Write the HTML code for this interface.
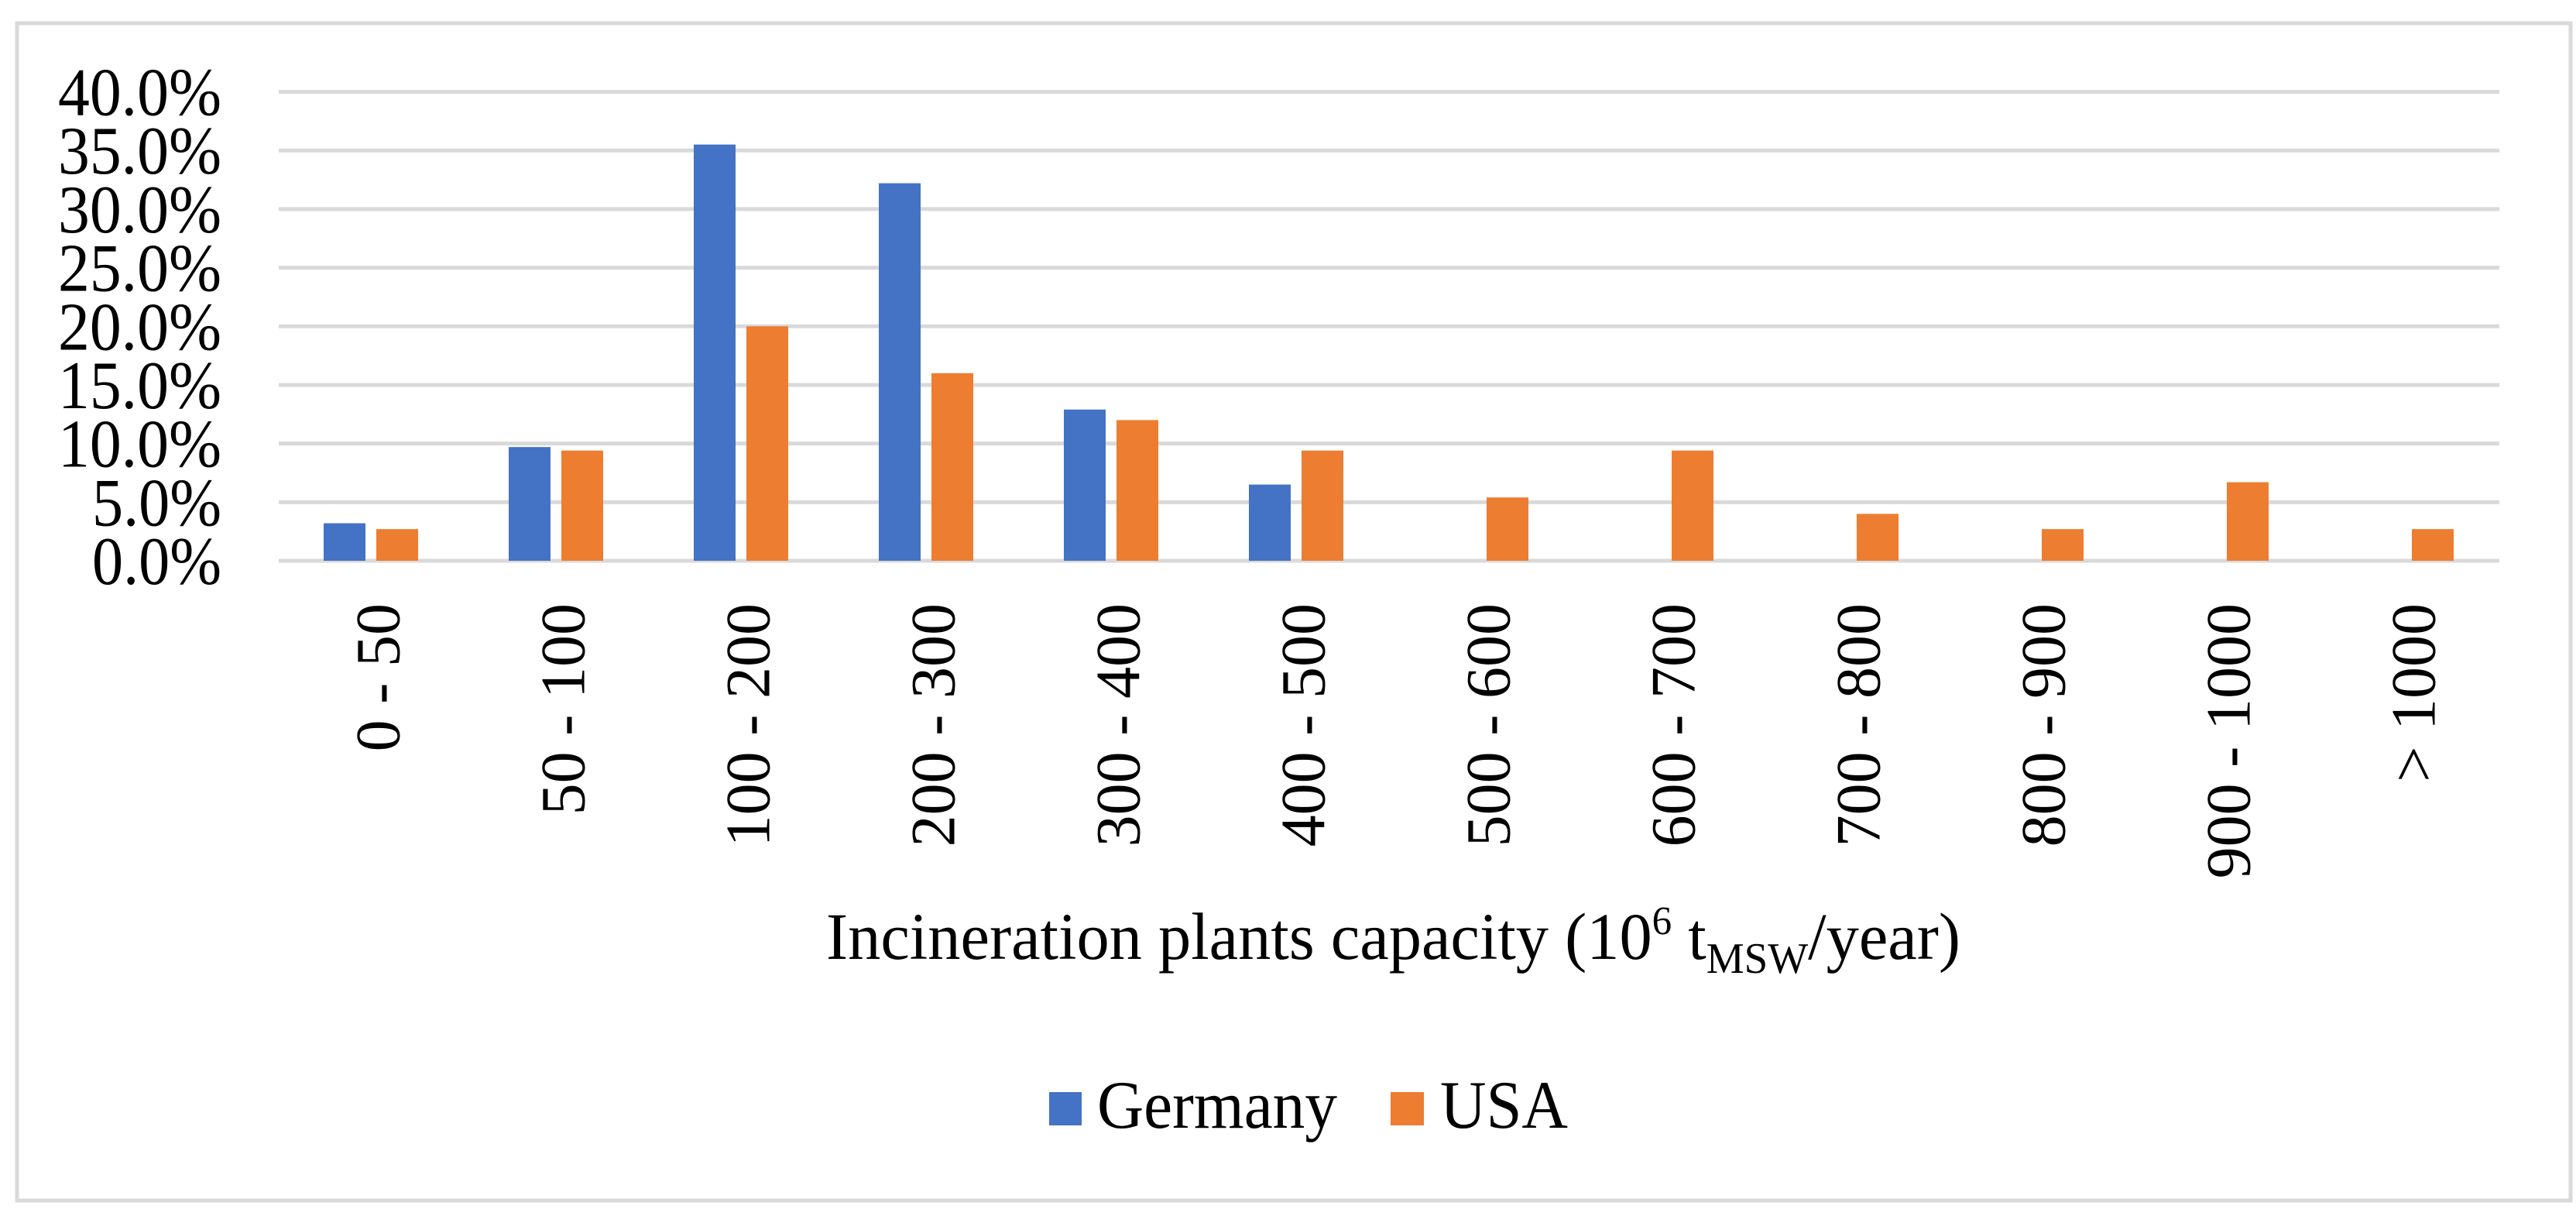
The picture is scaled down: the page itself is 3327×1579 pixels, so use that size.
<!DOCTYPE html>
<html><head><meta charset="utf-8"><style>
html,body{margin:0;padding:0;background:#fff;}
svg{display:block;font-family:"Liberation Serif","Times New Roman",serif;}
</style></head><body>
<svg id="chart" width="3327" height="1579" viewBox="0 0 3327 1579" xmlns="http://www.w3.org/2000/svg">
<rect x="22" y="30" width="3298" height="1520" fill="#fff" stroke="#d9d9d9" stroke-width="5"/>
<g id="grid"></g><g id="bars"></g><g id="yticks"></g><g id="xticks"></g>
<text x="1067" y="1238" font-size="86" textLength="1465" lengthAdjust="spacingAndGlyphs">Incineration plants capacity (10<tspan font-size="52" dy="-32">6</tspan><tspan dy="32"> t</tspan><tspan font-size="56" dy="18">MSW</tspan><tspan dy="-18">/year)</tspan></text>
<g>
<rect x="1355" y="1410" width="42" height="43" fill="#4472c4"/>
<text x="1417" y="1456" font-size="88" textLength="310" lengthAdjust="spacingAndGlyphs">Germany</text>
<rect x="1796" y="1410" width="43" height="43" fill="#ed7d31"/>
<text x="1860" y="1456" font-size="88" textLength="165" lengthAdjust="spacingAndGlyphs">USA</text>
</g>
</svg>
<script>
const categories=["0 - 50","50 - 100","100 - 200","200 - 300","300 - 400","400 - 500","500 - 600","600 - 700","700 - 800","800 - 900","900 - 1000","> 1000"];
const germany=[3.2,9.7,35.5,32.2,12.9,6.5,0,0,0,0,0,0];
const usa=[2.7,9.4,20.0,16.0,12.0,9.4,5.4,9.4,4.0,2.7,6.7,2.7];
const yTicks=[0,5,10,15,20,25,30,35,40];
const yTickLabels=["0.0%","5.0%","10.0%","15.0%","20.0%","25.0%","30.0%","35.0%","40.0%"];

const NS="http://www.w3.org/2000/svg";
const left=360,right=3228,y0=724,yTop=118.5,maxV=40;
const bw=(right-left)/categories.length;
function yS(v){return y0-(v/maxV)*(y0-yTop);}
function xS(i){return left+i*bw;}
function mk(tag,attrs,parent){const e=document.createElementNS(NS,tag);for(const k in attrs)e.setAttribute(k,attrs[k]);parent.appendChild(e);return e;}
const grid=document.getElementById('grid'),bars=document.getElementById('bars'),yt=document.getElementById('yticks'),xt=document.getElementById('xticks');
yTicks.forEach((t,i)=>{
  const l=mk('line',{x1:left,x2:right,y1:yS(t),y2:yS(t),stroke:'#d9d9d9','stroke-width':5},grid);
  
  
  const lab=yTickLabels[i];
  const tx=mk('text',{x:286,y:yS(t)+30,'font-size':88,'text-anchor':'end',textLength:lab.length===5?211:167,lengthAdjust:'spacingAndGlyphs'},yt);
  tx.textContent=lab;
  
  
});
const barW=bw*54/239,off1=bw*58/239,off2=bw*126/239;
categories.forEach((c,i)=>{
  if(germany[i]>0){
    const b=mk('rect',{x:xS(i)+off1,y:yS(germany[i]),width:barW,height:y0-yS(germany[i]),fill:'#4472c4'},bars);
    
    
  }
  if(usa[i]>0){
    const b=mk('rect',{x:xS(i)+off2,y:yS(usa[i]),width:barW,height:y0-yS(usa[i]),fill:'#ed7d31'},bars);
    
    
  }
  const cx=xS(i)+bw/2+36;
  const t=mk('text',{x:0,y:0,'font-size':82,'text-anchor':'end',transform:`translate(${cx},779) rotate(-90)`},xt);
  t.textContent=c;
  
  
});
</script>
</body></html>
